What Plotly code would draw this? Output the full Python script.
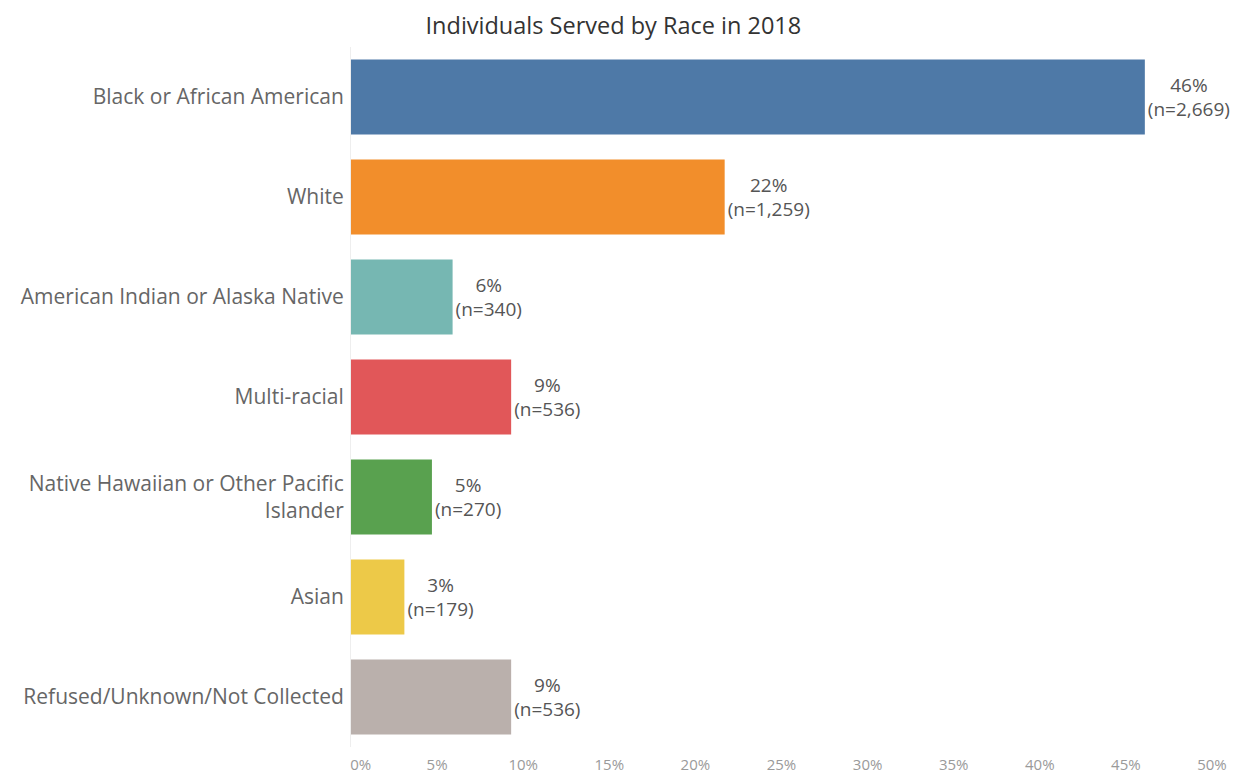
import plotly.graph_objects as go

categories = ["Black or African American", "White", "American Indian or Alaska Native",
              "Multi-racial", "Native Hawaiian or Other Pacific<br>Islander", "Asian",
              "Refused/Unknown/Not Collected"]
percents = [46.1, 21.7, 5.9, 9.3, 4.7, 3.1, 9.3]
pct_labels = ["46%", "22%", "6%", "9%", "5%", "3%", "9%"]
counts = ["2,669", "1,259", "340", "536", "270", "179", "536"]
colors = ["#4e79a7", "#f28e2b", "#76b7b2", "#e15759", "#59a14f", "#edc948", "#bab0ac"]
tick_vals = [0, 5, 10, 15, 20, 25, 30, 35, 40, 45, 50]
tick_text = ["\u00a0" * 5 + "0%"] + [f"{v}%" for v in tick_vals[1:]]

font_family = "'Open Sans', 'Noto Sans', sans-serif"
texts = [f"{p}<br>(n={c})" for p, c in zip(pct_labels, counts)]

fig = go.Figure(go.Bar(
    y=categories, x=percents, orientation="h",
    marker=dict(color=colors, line=dict(width=0)),
    width=0.75,
    text=texts, textposition="outside", cliponaxis=False,
    textfont=dict(family=font_family, size=19, color="#555555"),
    hoverinfo="skip",
))

# page body has an 8px default margin: compensate so the plot area lands where the reference has it
fig.update_layout(
    width=1233, height=766,
    margin=dict(l=343, r=29, t=39, b=27),
    paper_bgcolor="white", plot_bgcolor="white",
    title=dict(text="Individuals Served by Race in 2018", x=0.491, xanchor="center",
               y=0.977, yanchor="middle",
               font=dict(family=font_family, size=23.5, color="#333333")),
    showlegend=False,
    xaxis=dict(range=[0, 50], tickvals=tick_vals, ticktext=tick_text,
               showgrid=False, zeroline=False, showline=False, ticks="",
               automargin=False, ticklabelstandoff=7,
               tickfont=dict(family=font_family, size=15, color="#9a9a9a")),
    yaxis=dict(autorange="reversed", showgrid=False, zeroline=False,
               showline=True, linecolor="#eeeeee", linewidth=1, ticks="",
               automargin=False, ticklabelstandoff=2,
               tickfont=dict(family=font_family, size=21, color="#666666")),
)

fig.write_html("out.html")
